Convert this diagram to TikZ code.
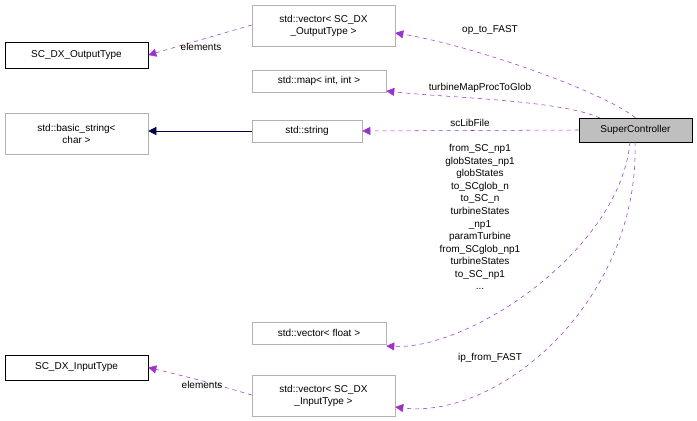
\documentclass[tikz,border=0pt]{standalone}
\usepackage{fontspec}
\setmainfont{Liberation Sans}
\usetikzlibrary{arrows.meta}
\definecolor{dep}{HTML}{9A32CD}
\begin{document}
\begin{tikzpicture}[x=0.75pt,y=-0.75pt,font=\fontsize{7.5}{9}\selectfont,
  gbox/.style={draw=gray!60,fill=white,inner sep=0pt,align=center},
  kbox/.style={draw=black,fill=white,inner sep=0pt,align=center},
  dep/.style={draw=dep,dashed,-{Triangle[length=6pt,width=6pt,fill=dep,sep=0pt,line width=0.4pt]}},
  lab/.style={fill=none,inner sep=1pt,align=center,font=\fontsize{7.5}{9.4}\selectfont}]
\useasboundingbox (0,0) rectangle (697,421);
\node[kbox,minimum width=143*0.75pt,minimum height=26*0.75pt] (out) at (76.5,55) {SC\_DX\_OutputType};
\node[gbox,minimum width=143*0.75pt,minimum height=41*0.75pt] (vout) at (323.5,25.5) {std::vector\textless{} SC\_DX\\\_OutputType \textgreater};
\node[gbox,minimum width=134*0.75pt,minimum height=22*0.75pt] (map) at (319,81) {std::map\textless{} int, int \textgreater};
\node[gbox,minimum width=143*0.75pt,minimum height=41*0.75pt] (bstr) at (76.5,133.5) {std::basic\_string\textless\\char \textgreater};
\node[gbox,minimum width=110*0.75pt,minimum height=22*0.75pt] (str) at (307,131) {std::string};
\node[kbox,fill=gray!50,minimum width=113*0.75pt,minimum height=24*0.75pt] (sc) at (635.5,130) {SuperController};
\node[gbox,minimum width=134*0.75pt,minimum height=22*0.75pt] (vf) at (319,333) {std::vector\textless{} float \textgreater};
\node[kbox,minimum width=143*0.75pt,minimum height=25*0.75pt] (in) at (76.5,367.5) {SC\_DX\_InputType};
\node[gbox,minimum width=143*0.75pt,minimum height=41*0.75pt] (vin) at (323.5,395.5) {std::vector\textless{} SC\_DX\\\_InputType \textgreater};

\draw[dep] (vout.west|-0,25) .. controls (200,40) .. (out.east);
\node[lab] (l1) at (201,47) {elements};
\draw[dep] (sc.north) .. controls (600,90) and (470,45) .. (vout.east|-0,33);
\node[lab] (l2) at (490,30) {op\_to\_FAST};
\draw[dep] (600,118) .. controls (560,100) and (450,98) .. (map.east|-0,91);
\node[lab] (l3) at (480,88) {turbineMapProcToGlob};
\draw[dep] (sc.west) -- (str.east);
\node[lab] (l4) at (470,123) {scLibFile};
\draw[draw=blue!30!black,-{Triangle[length=6pt,width=6pt]}] (str.west) -- (bstr.east|-0,131);
\draw[dep] (630,142) .. controls (620,250) and (470,350) .. (vf.east|-0,346);
\node[lab,anchor=north] (l5) at (480,143) {from\_SC\_np1\\globStates\_np1\\globStates\\to\_SCglob\_n\\to\_SC\_n\\turbineStates\\\_np1\\paramTurbine\\from\_SCglob\_np1\\turbineStates\\to\_SC\_np1\\...};
\draw[dep] (635,142) .. controls (640,300) and (500,420) .. (vin.east|-0,407);
\node[lab] (l6) at (490,358) {ip\_from\_FAST};
\draw[dep] (vin.west|-0,395) .. controls (200,380) .. (in.east);
\node[lab] (l7) at (202,385) {elements};
\end{tikzpicture}
\end{document}
